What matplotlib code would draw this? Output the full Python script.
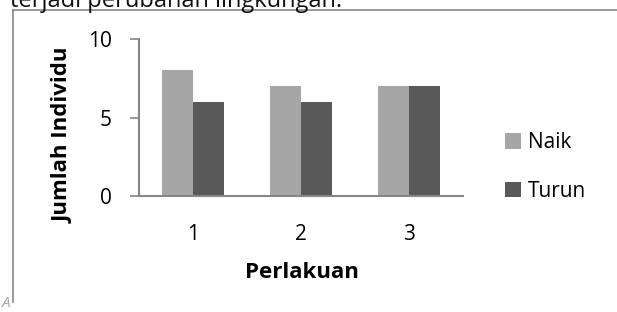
import numpy as np
import matplotlib.pyplot as plt
from matplotlib.lines import Line2D

plt.rcParams['font.family'] = ['Open Sans', 'DejaVu Sans']

perlakuan = ['1', '2', '3']
naik = [8, 7, 7]
turun = [6, 6, 7]

W, H = 617, 312
fig = plt.figure(figsize=(W / 100, H / 100), dpi=100)

# frame of the embedded chart
gray = '#888888'
fig.add_artist(Line2D([13 / W, 13 / W], [1 - 10 / H, 1 - 302 / H], color=gray, lw=1.2))
fig.add_artist(Line2D([13 / W, 1], [1 - 10 / H, 1 - 10 / H], color=gray, lw=1.2))

# cut-off sentence above the chart
fig.text(10 / W, 1 - 7 / H, 'terjadi perubahan lingkungan.', fontsize=17,
         va='baseline', ha='left', color='#111111')
# anchor mark bottom-left
fig.text(2 / W, 1 - 307 / H, 'A', fontsize=11, style='italic', color='#aaaaaa',
         va='baseline', ha='left')

ax = fig.add_axes([139 / W, 116 / H, 324 / W, 157 / H])
x = np.arange(len(perlakuan))
w = 0.287
ax.bar(x - w / 2, naik, w, color='#a6a6a6', label='Naik')
ax.bar(x + w / 2, turun, w, color='#595959', label='Turun')

ax.set_xlim(-0.5, 2.5)
ax.set_ylim(0, 10)
ax.set_yticks([0, 5, 10])
ax.set_xticks(x)
ax.set_xticklabels(perlakuan)
ax.tick_params(axis='x', length=0, labelsize=15, pad=20)
ax.tick_params(axis='y', length=6.5, width=1.2, color='#868686', labelsize=15, pad=13)
for s in ['top', 'right']:
    ax.spines[s].set_visible(False)
for s in ['left', 'bottom']:
    ax.spines[s].set_color('#868686')
    ax.spines[s].set_linewidth(1.5)

ax.set_xlabel('Perlakuan', fontsize=16, fontweight='bold', va='baseline')
ax.xaxis.set_label_coords((302 - 139) / 324, (196 - 278) / 157)
ax.set_ylabel('Jumlah Individu', fontsize=16, fontweight='bold', va='center')
ax.yaxis.set_label_coords((63 - 139) / 324, (196 - 135) / 157)

fig.legend(loc='center left', bbox_to_anchor=(486 / W, 1 - 167 / H), frameon=False,
           fontsize=15, handlelength=0.77, handleheight=0.77, handletextpad=0.33,
           labelspacing=1.3)

fig.savefig('out.png', dpi=100)
